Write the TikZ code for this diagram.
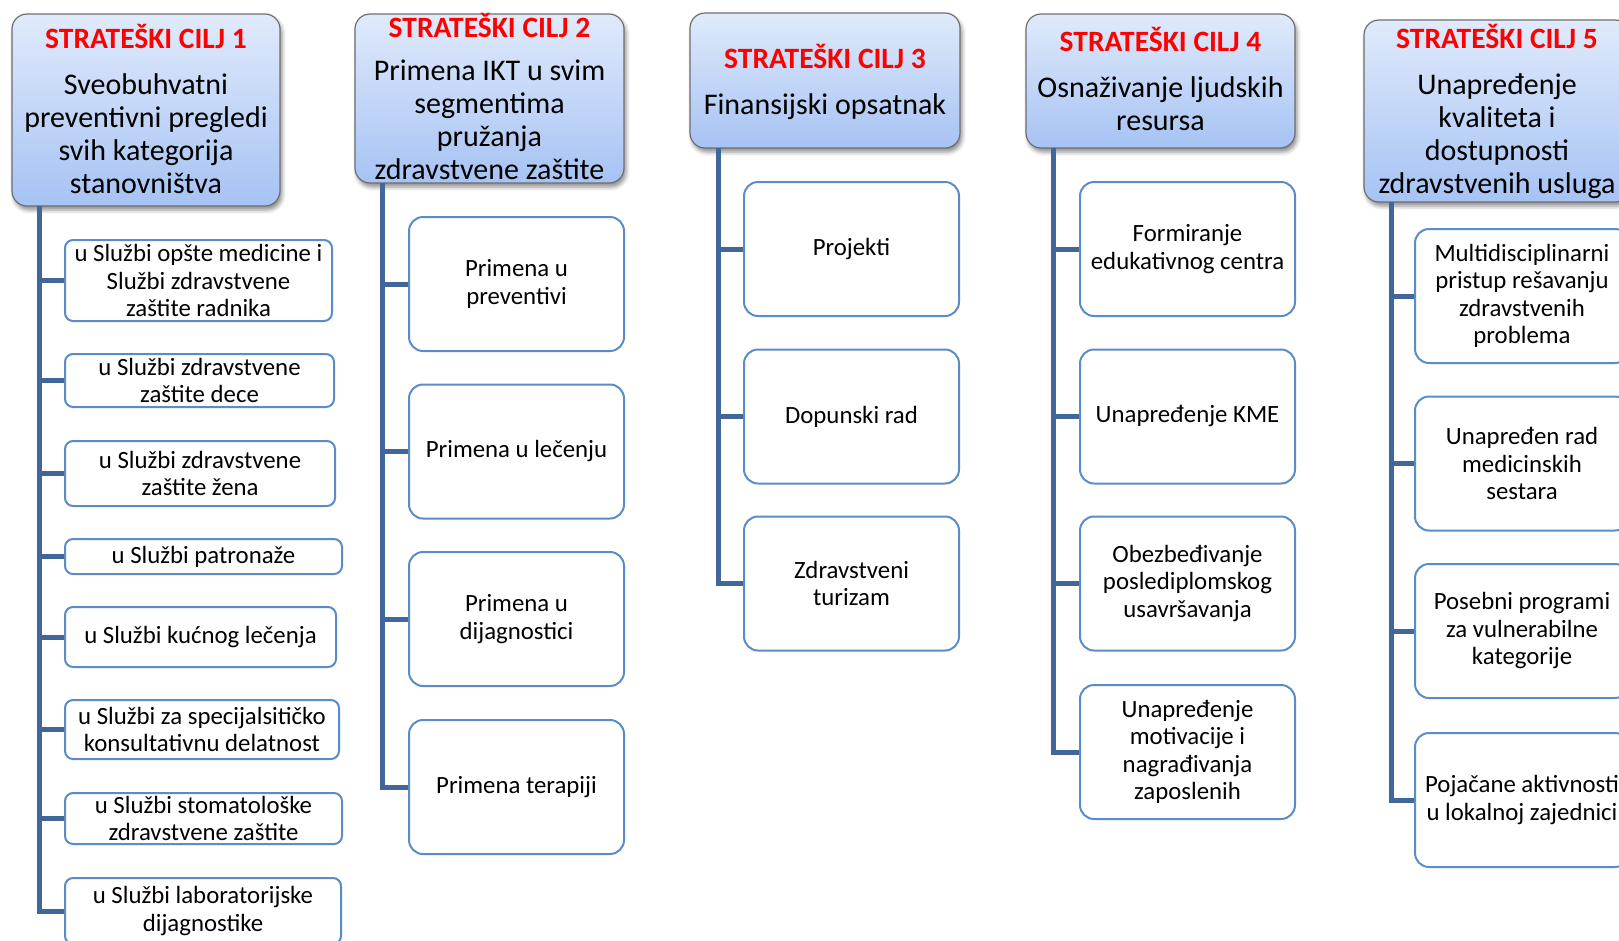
\documentclass[tikz,border=0pt]{standalone}
\usepackage{fontspec}
\setmainfont{Carlito}
\usetikzlibrary{shadows.blur}

\definecolor{trunkblue}{HTML}{41679A}
\definecolor{boxline}{HTML}{5B8BC9}
\definecolor{headtop}{HTML}{E0EAFB}
\definecolor{headbot}{HTML}{A6C3F4}
\definecolor{headline}{HTML}{6E6E6E}
\definecolor{goalred}{HTML}{FF0000}

\newcommand\goaltitle[1]{{\fontsize{29.5}{33}\selectfont\bfseries\color{goalred}#1}}

\tikzset{
  head/.style={draw=headline, line width=1.2pt, rounded corners=15pt,
    top color=headtop, bottom color=headbot, inner sep=0pt,
    blur shadow={shadow xshift=2pt, shadow yshift=-4pt, shadow blur radius=4pt, shadow opacity=45}},
  headtext/.style={align=center, inner sep=0pt, font=\fontsize{30}{33}\selectfont},
  leaf/.style={draw=boxline, line width=2pt, fill=white, rounded corners=14pt,
    align=center, inner sep=0pt, font=\fontsize{24.8}{27.5}\selectfont},
  leafA/.style={leaf, rounded corners=8pt},
  trunk/.style={draw=trunkblue, line width=5pt},
}

\begin{document}
\begin{tikzpicture}[x=1pt, y=-1pt]
\useasboundingbox (0,0) rectangle (1619,940);
\clip (0,0) rectangle (1619,940);

% ---------- goal headers ----------
\node[head, minimum width=268pt, minimum height=192pt] (h1) at (146,110) {};
\node[headtext] (h1t) at (146,109) {\goaltitle{STRATEŠKI CILJ 1}\\[13pt]Sveobuhvatni\\preventivni pregledi\\svih kategorija\\stanovništva};

\node[head, minimum width=269pt, minimum height=169pt] (h2) at (489.5,98.5) {};
\node[headtext] (h2t) at (489.5,96.5) {\goaltitle{STRATEŠKI CILJ 2}\\[10pt]Primena IKT u svim\\segmentima\\pružanja\\zdravstvene zaštite};

\node[head, minimum width=270pt, minimum height=135pt] (h3) at (825,80.5) {};
\node[headtext] (h3t) at (825,82) {\goaltitle{STRATEŠKI CILJ 3}\\[13pt]Finansijski opsatnak};

\node[head, minimum width=269pt, minimum height=134pt] (h4) at (1160.5,81) {};
\node[headtext] (h4t) at (1160.5,79) {\goaltitle{STRATEŠKI CILJ 4}\\[13pt]Osnaživanje ljudskih\\resursa};

\node[head, minimum width=266pt, minimum height=182pt] (h5) at (1497,111) {};
\node[headtext] (h5t) at (1497,111) {\goaltitle{STRATEŠKI CILJ 5}\\[13pt]Unapređenje\\kvaliteta i\\dostupnosti\\zdravstvenih usluga};

% ---------- column 1 ----------
\node[leafA, minimum width=267pt, minimum height=81pt] (a1) at (198.5,280.5) {u Službi opšte medicine i\\Službi zdravstvene\\zaštite radnika};
\node[leafA, minimum width=269pt, minimum height=53pt] (a2) at (199.5,380.5) {u Službi zdravstvene\\zaštite dece};
\node[leafA, minimum width=270pt, minimum height=65pt] (a3) at (200,473.5) {u Službi zdravstvene\\zaštite žena};
\node[leafA, minimum width=277pt, minimum height=35pt] (a4) at (203.5,556.5) {u Službi patronaže};
\node[leafA, minimum width=271pt, minimum height=60pt] (a5) at (200.5,637) {u Službi kućnog lečenja};
\node[leafA, minimum width=274pt, minimum height=59pt] (a6) at (202,729.5) {u Službi za specijalsitičko\\konsultativnu delatnost};
\node[leafA, minimum width=277pt, minimum height=51pt] (a7) at (203.5,818.5) {u Službi stomatološke\\zdravstvene zaštite};
\node[leafA, minimum width=276pt, minimum height=66pt] (a8) at (203,911) {u Službi laboratorijske\\dijagnostike};

% ---------- column 2 ----------
\node[leaf, minimum width=215pt, minimum height=134pt] (b1) at (516.5,284) {Primena u\\preventivi};
\node[leaf, minimum width=215pt, minimum height=134pt] (b2) at (516.5,451.5) {Primena u lečenju};
\node[leaf, minimum width=215pt, minimum height=134pt] (b3) at (516.5,619) {Primena u\\dijagnostici};
\node[leaf, minimum width=215pt, minimum height=134pt] (b4) at (516.5,787) {Primena terapiji};

% ---------- column 3 ----------
\node[leaf, minimum width=215pt, minimum height=134pt] (c1) at (851.5,249) {Projekti};
\node[leaf, minimum width=215pt, minimum height=134pt] (c2) at (851.5,416.5) {Dopunski rad};
\node[leaf, minimum width=215pt, minimum height=134pt] (c3) at (851.5,583.5) {Zdravstveni\\turizam};

% ---------- column 4 ----------
\node[leaf, minimum width=215pt, minimum height=134pt] (d1) at (1187.5,249) {Formiranje\\edukativnog centra};
\node[leaf, minimum width=215pt, minimum height=134pt] (d2) at (1187.5,416.5) {Unapređenje KME};
\node[leaf, minimum width=215pt, minimum height=134pt] (d3) at (1187.5,583.5) {Obezbeđivanje\\poslediplomskog\\usavršavanja};
\node[leaf, minimum width=215pt, minimum height=134pt] (d4) at (1187.5,752) {Unapređenje\\motivacije i\\nagrađivanja\\zaposlenih};

% ---------- column 5 ----------
\node[leaf, minimum width=214pt, minimum height=134pt] (e1) at (1522,296) {Multidisciplinarni\\pristup rešavanju\\zdravstvenih\\problema};
\node[leaf, minimum width=214pt, minimum height=134pt] (e2) at (1522,463.5) {Unapređen rad\\medicinskih\\sestara};
\node[leaf, minimum width=214pt, minimum height=134pt] (e3) at (1522,631) {Posebni programi\\za vulnerabilne\\kategorije};
\node[leaf, minimum width=214pt, minimum height=134pt] (e4) at (1522,800) {Pojačane aktivnosti\\u lokalnoj zajednici};

% ---------- trunks and branches ----------
\coordinate (t1) at (39,206);
\coordinate (t2) at (382,183);
\coordinate (t3) at (718,148);
\coordinate (t4) at (1053,148);
\coordinate (t5) at (1391,202);

\foreach \n in {a1,a2,a3,a4,a5,a6,a7,a8} \draw[trunk] (t1) |- (\n.west);
\foreach \n in {b1,b2,b3,b4} \draw[trunk] (t2) |- (\n.west);
\foreach \n in {c1,c2,c3} \draw[trunk] (t3) |- (\n.west);
\foreach \n in {d1,d2,d3,d4} \draw[trunk] (t4) |- (\n.west);
\foreach \n in {e1,e2,e3,e4} \draw[trunk] (t5) |- (\n.west);
\end{tikzpicture}
\end{document}
